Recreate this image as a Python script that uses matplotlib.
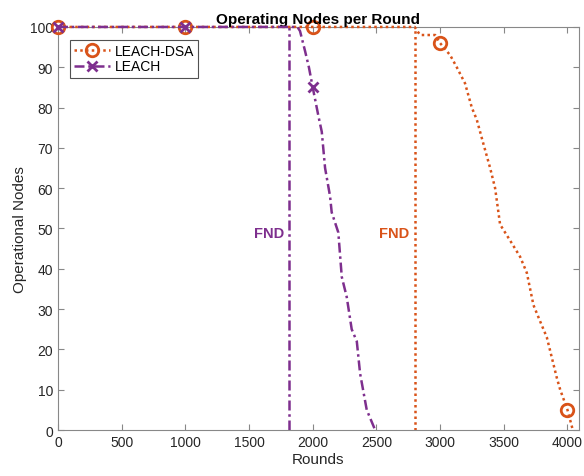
import matplotlib
matplotlib.use('Agg')
import matplotlib.pyplot as plt
import numpy as np

plt.rcParams['font.family'] = ['Liberation Sans', 'DejaVu Sans']

# LEACH-DSA (orange, dotted, circles)
dsa_rounds = [0, 1000, 2000, 2800, 2843, 2961, 3000, 3079, 3131, 3196, 3249, 3288,
              3340, 3393, 3432, 3471, 3550, 3628, 3681, 3733, 3785, 3838, 3877,
              3916, 3943, 4000, 4042]
dsa_nodes = [100, 100, 100, 100, 98, 98, 96, 93, 90, 86, 80, 77,
             71, 65, 60, 51, 47, 43, 39, 31, 27, 23, 18,
             13, 10, 5, 0]

# LEACH (purple, dash-dot, x)
leach_rounds = [0, 1000, 1880, 1900, 1940, 1970, 2000, 2044, 2071, 2097, 2136, 2149,
                2201, 2228, 2267, 2306, 2346, 2372, 2424, 2490]
leach_nodes = [100, 100, 100, 99, 94, 90, 85, 78, 74, 65, 58, 54,
               49, 38, 33, 25, 22, 14, 5, 0]

fnd_dsa = 2800
fnd_leach = 1815

c_dsa = '#D95319'
c_leach = '#7E2F8E'

fig = plt.figure(figsize=(5.84, 4.77), dpi=100)
ax = fig.add_axes([0.0993, 0.0964, 0.892, 0.845])

mk_dsa = [i for i, r in enumerate(dsa_rounds) if r % 1000 == 0]
mk_leach = [i for i, r in enumerate(leach_rounds) if r % 1000 == 0]

ax.plot(dsa_rounds, dsa_nodes, ls=(0, (1, 1.3)), color=c_dsa, lw=1.8, marker='o', ms=9,
        mfc='none', mew=2, markevery=mk_dsa, label='LEACH-DSA', clip_on=False, zorder=3)
ax.plot(leach_rounds, leach_nodes, ls=(0, (4, 1.5, 1, 1.5)), color=c_leach, lw=1.8,
        marker='x', ms=7, mew=2, markevery=mk_leach, label='LEACH', clip_on=False,
        zorder=4)

ax.axvline(fnd_leach, color=c_leach, ls=(0, (4, 1.5, 1, 1.5)), lw=1.8)
ax.axvline(fnd_dsa, color=c_dsa, ls=(0, (1, 1.3)), lw=1.8)
ax.text(fnd_leach - 40, 49, 'FND', color=c_leach, fontsize=10.5, fontweight='bold',
        ha='right', va='center')
ax.text(fnd_dsa - 40, 49, 'FND', color=c_dsa, fontsize=10.5, fontweight='bold',
        ha='right', va='center')

ax.set_xlim(0, 4090)
ax.set_ylim(0, 100)
ax.set_xticks(np.arange(0, 4001, 500))
ax.set_yticks(np.arange(0, 101, 10))
ax.tick_params(direction='in', top=True, right=True, length=4, labelsize=10,
               colors='#888888', labelcolor='#262626')
for s in ax.spines.values():
    s.set_color('#888888')
ax.set_xlabel('Rounds', fontsize=11, color='#262626', labelpad=2)
ax.set_ylabel('Operational Nodes', fontsize=11, color='#262626', labelpad=2)
ax.set_title('Operating Nodes per Round', fontsize=11, fontweight='bold', pad=3)

leg = ax.legend(loc='upper left', fontsize=10, handlelength=2.6, borderpad=0.3,
                labelspacing=0.1, handletextpad=0.3, fancybox=False,
                bbox_to_anchor=(0.01, 0.985))
leg.get_frame().set_edgecolor('#262626')
leg.get_frame().set_linewidth(0.8)

fig.savefig('out.png', dpi=100)
